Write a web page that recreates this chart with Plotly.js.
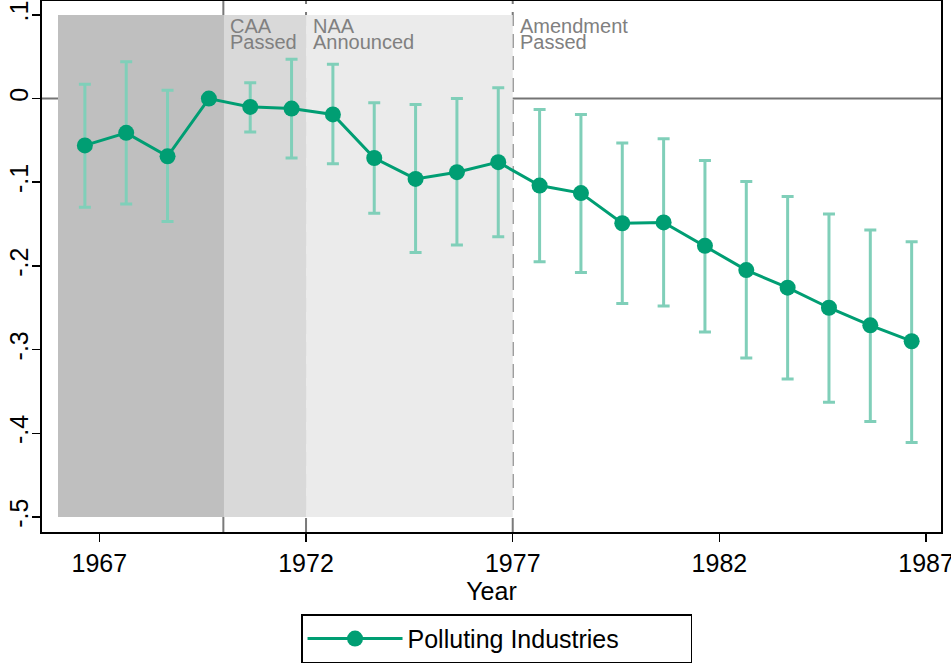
<!DOCTYPE html>
<html>
<head>
<meta charset="utf-8">
<script src="https://cdn.plot.ly/plotly-3.0.1.min.js"></script>
<style>html,body{margin:0;padding:0;background:#fff;}#chart{width:951px;height:664px;}</style>
</head>
<body>
<div id="chart"></div>
<script>
// Data
const years = [1966,1967,1968,1969,1970,1971,1972,1973,1974,1975,1976,1977,1978,1979,1980,1981,1982,1983,1984,1985,1986];
const yearOffset = 0.65; // points are drawn slightly after the year tick
const coef  = [-0.056,-0.041,-0.069,0.000,-0.010,-0.012,-0.019,-0.071,-0.096,-0.088,-0.076,-0.104,-0.113,-0.149,-0.148,-0.176,-0.205,-0.226,-0.250,-0.271,-0.290];
const ciHigh = [0.017,0.044,0.010,null,0.019,0.047,0.041,-0.005,-0.007,0.000,0.013,-0.013,-0.019,-0.053,-0.048,-0.074,-0.099,-0.117,-0.138,-0.157,-0.171];
const ciLow  = [-0.130,-0.126,-0.147,null,-0.040,-0.071,-0.078,-0.137,-0.184,-0.175,-0.165,-0.195,-0.208,-0.245,-0.248,-0.279,-0.310,-0.335,-0.363,-0.386,-0.411];
const seriesName = "Polluting Industries";

// Policy periods / events
const shadeStart = 1966;
const events = [1970, 1972, 1977];
const eventLabels = [["CAA","Passed"],["NAA","Announced"],["Amendment","Passed"]];
const shadeColors = ["#bfbfbf","#d9d9d9","#ebebeb"];
const shadeTop = 0.1, shadeBottom = -0.5;

const xTickVals = [1967,1972,1977,1982,1987];
const yTickVals = [0.1,0,-0.1,-0.2,-0.3,-0.4,-0.5];
const yTickText = [".1","0","-.1","-.2","-.3","-.4","-.5"];

const green = "#009e73";
const FONT = "Liberation Sans, Arial, Helvetica, sans-serif";

const xPos = years.map(y => y + yearOffset);
const errPlus = coef.map((c,i) => ciHigh[i] === null ? NaN : ciHigh[i] - c);
const errMinus = coef.map((c,i) => ciLow[i] === null ? NaN : c - ciLow[i]);

const trace = {
  x: xPos, y: coef, type: "scatter", mode: "lines+markers", name: seriesName,
  line: {color: green, width: 3},
  marker: {color: green, size: 16},
  error_y: {type: "data", symmetric: false, array: errPlus, arrayminus: errMinus,
            color: "#80cfb9", thickness: 3, width: 6}
};

const bounds = [shadeStart].concat(events);
const shapes = [];
for (let i = 0; i < 3; i++) {
  shapes.push({type:"rect", xref:"x", yref:"y", x0:bounds[i], x1:bounds[i+1], y0:shadeBottom, y1:shadeTop,
               fillcolor:shadeColors[i], line:{width:0}, layer:"below"});
}
shapes.push({type:"line", xref:"paper", yref:"y", x0:0, x1:1, y0:0, y1:0, line:{color:"#747474", width:2}, layer:"below"});
events.forEach((e,i) => {
  shapes.push({type:"line", xref:"x", yref:"paper", x0:e, x1:e, y0:0, y1:1,
               line:{color:"#7a7a7a", width:2, dash: i===0 ? "solid" : "14px,8px"}, layer:"below"});
});

const annotations = [];
events.forEach((e,i) => {
  eventLabels[i].forEach((t,j) => {
    annotations.push({x:e, y: 0.087 - j*0.019, xref:"x", yref:"y", text:t, showarrow:false,
      xanchor:"left", yanchor:"middle", xshift:6, borderpad:0,
      font:{family:FONT, size:20, color:"#808080"}});
  });
});

const layout = {
  width: 951, height: 664,
  margin: {l: 42, r: 10, t: 1, b: 128},
  paper_bgcolor: "#fff", plot_bgcolor: "#fff",
  showlegend: true,
  font: {family: FONT, size: 25, color: "#000"},
  xaxis: {range: [1965.613, 1987.36], tickvals: xTickVals, ticktext: xTickVals.map(String),
          ticks: "outside", ticklen: 8, tickwidth: 1.5, tickcolor: "#000",
          showline: true, linecolor: "#000", linewidth: 2, mirror: true,
          showgrid: false, zeroline: false, ticklabeloverflow: "allow",
          tickfont: {family: FONT, size: 25},
          title: {text: "Year", font: {family: FONT, size: 25}, standoff: 3}},
  yaxis: {range: [-0.518, 0.1166], tickvals: yTickVals, ticktext: yTickText, tickangle: -90,
          ticks: "outside", ticklen: 8, tickwidth: 1.5, tickcolor: "#000",
          showline: true, linecolor: "#000", linewidth: 2, mirror: true,
          showgrid: false, zeroline: false, ticklabelstandoff: -6,
          tickfont: {family: FONT, size: 25}},
  legend: {x: 0.5056, xanchor: "center", y: -0.155, yanchor: "top", orientation: "h",
           bordercolor: "#000", borderwidth: 1.5, bgcolor: "#fff",
           font: {family: FONT, size: 25}, itemwidth: 95, entrywidth: 278},
  shapes: shapes,
  annotations: annotations
};

Plotly.newPlot("chart", [trace], layout, {displayModeBar: false, staticPlot: true});
</script>
</body>
</html>
